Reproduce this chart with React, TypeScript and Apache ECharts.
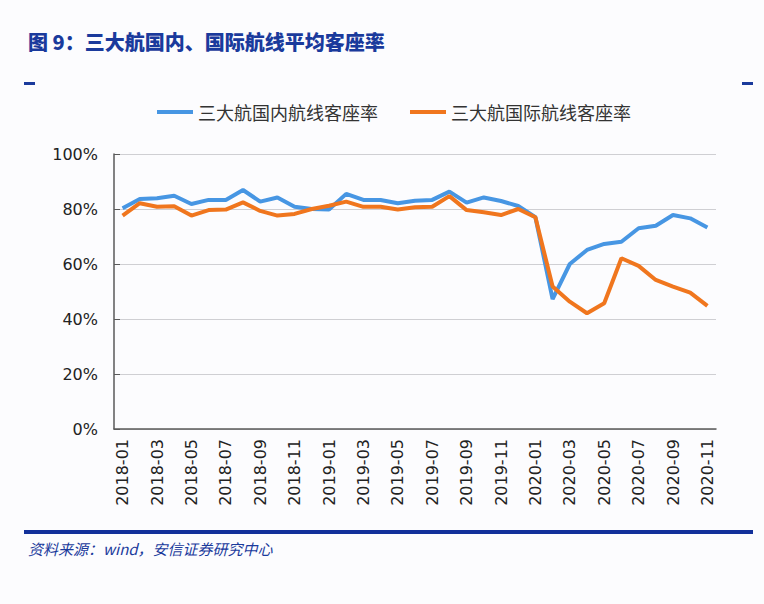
import React, { useEffect, useRef } from "react";
import * as echarts from "echarts";

// Monthly categories, 2018-01 .. 2020-11
const months: string[] = [];
for (let y = 2018; y <= 2020; y++) {
  for (let m = 1; m <= 12; m++) {
    if (y === 2020 && m > 11) break;
    months.push(`${y}-${String(m).padStart(2, "0")}`);
  }
}

// 三大航国内航线客座率 (%)
const domesticLoad = [
  80.3, 83.6, 83.9, 84.8, 81.8, 83.3, 83.3, 86.9, 82.7, 84.2, 80.8, 80.0,
  79.8, 85.5, 83.3, 83.3, 82.1, 83.0, 83.3, 86.3, 82.3, 84.2, 82.9, 81.1,
  77.0, 47.2, 60.0, 65.1, 67.3, 68.1, 73.0, 73.9, 77.8, 76.6, 73.3,
];

// 三大航国际航线客座率 (%)
const internationalLoad = [
  77.6, 82.1, 80.8, 81.0, 77.6, 79.6, 79.8, 82.4, 79.3, 77.6, 78.2, 80.0,
  81.2, 82.7, 80.8, 80.8, 79.8, 80.6, 80.8, 84.7, 79.6, 78.8, 77.8, 80.0,
  77.0, 51.8, 46.3, 42.1, 45.7, 62.1, 59.3, 54.2, 51.8, 49.6, 44.8,
];

const seriesNames = ["三大航国内航线客座率", "三大航国际航线客座率"];
const titleText = "图 9：三大航国内、国际航线平均客座率";
const sourceText = "资料来源：wind，安信证券研究中心";

const BLUE_LINE = "#4796e3";
const ORANGE_LINE = "#f0761e";
const NAVY = "#1a3a9c";

export default function App() {
  const ref = useRef<HTMLDivElement>(null);

  useEffect(() => {
    document.body.style.margin = "0";
    if (!ref.current) return;
    const chart = echarts.init(ref.current, undefined, { renderer: "svg" });
    chart.setOption({
      animation: false,
      backgroundColor: "#fcfcfe",
      textStyle: { fontFamily: "Liberation Sans, Noto Sans CJK SC, sans-serif" },
      legend: {
        top: 103,
        left: 157,
        padding: 0,
        itemWidth: 36,
        itemHeight: 4,
        itemGap: 32,
        icon: "rect",
        textStyle: { fontSize: 18, color: "#333", fontFamily: "Noto Sans CJK SC" },
        data: seriesNames,
      },
      grid: { left: 114, right: 48, top: 154, bottom: 175 },
      xAxis: {
        type: "category",
        data: months,
        boundaryGap: true,
        axisLine: { lineStyle: { color: "#5a5a5a", width: 1.5 } },
        axisTick: { inside: true, length: 6, interval: 1, lineStyle: { color: "#5a5a5a" } },
        axisLabel: {
          interval: 1,
          rotate: 90,
          margin: 10,
          fontSize: 16,
          color: "#222",
          fontFamily: "DejaVu Sans",
        },
      },
      yAxis: {
        type: "value",
        min: 0,
        max: 100,
        interval: 20,
        axisLine: { show: true, lineStyle: { color: "#5a5a5a", width: 1.5 } },
        axisTick: { show: true, inside: true, length: 6, lineStyle: { color: "#5a5a5a" } },
        axisLabel: {
          formatter: "{value}%",
          fontSize: 16,
          color: "#222",
          margin: 16,
          fontFamily: "DejaVu Sans",
        },
        splitLine: { lineStyle: { color: "#cfcfd3", width: 1 } },
      },
      series: [
        {
          name: seriesNames[0],
          type: "line",
          data: domesticLoad,
          symbol: "none",
          color: BLUE_LINE,
          lineStyle: { width: 4, color: BLUE_LINE },
        },
        {
          name: seriesNames[1],
          type: "line",
          data: internationalLoad,
          symbol: "none",
          color: ORANGE_LINE,
          lineStyle: { width: 4, color: ORANGE_LINE },
        },
      ],
      graphic: [
        {
          type: "text",
          left: 28,
          top: 31,
          style: {
            text: titleText,
            fontSize: 20,
            fontWeight: 900,
            fill: NAVY,
            fontFamily: "Noto Sans CJK SC",
          },
        },
        { type: "rect", left: 24, top: 82, shape: { width: 11, height: 3 }, style: { fill: NAVY } },
        { type: "rect", left: 742, top: 82, shape: { width: 11, height: 3 }, style: { fill: NAVY } },
        { type: "rect", left: 24, top: 530, shape: { width: 729, height: 4 }, style: { fill: "#12309a" } },
        {
          type: "text",
          left: 28,
          top: 541,
          style: {
            text: sourceText,
            fontSize: 15,
            fontStyle: "italic",
            fill: NAVY,
            fontFamily: "Noto Sans CJK SC",
          },
        },
      ],
    });
    return () => chart.dispose();
  }, []);

  return (
    <div
      ref={ref}
      style={{ position: "absolute", left: 0, top: 0, width: 764, height: 604 }}
    />
  );
}
